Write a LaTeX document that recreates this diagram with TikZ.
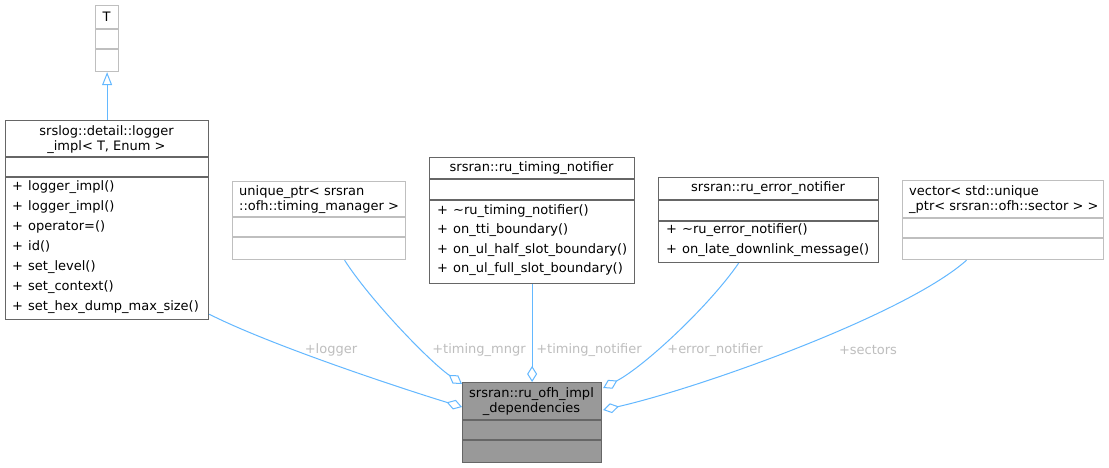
\documentclass[tikz,border=0pt]{standalone}
\usepackage{fontspec}
\setmainfont{DejaVu Sans}
\usetikzlibrary{arrows.meta}
\definecolor{edgeblue}{HTML}{63B8FF}
\definecolor{lightborder}{HTML}{BFBFBF}
\definecolor{darkborder}{HTML}{666666}
\definecolor{mainfill}{HTML}{999999}
\definecolor{labelgray}{HTML}{BEBEBE}
\newcommand\classmembers[5]{%
  \foreach \m [count=\i] in {#5} {
    \node[txt, anchor=base west] (#1-p\i) at (#2, {#3+(\i-1)*#4}) {+};
    \node[txt, anchor=base west] (#1-m\i) at (#2+16, {#3+(\i-1)*#4}) {\m};
  }}
\begin{document}
\begin{tikzpicture}[x=1pt,y=-1pt,
  lightbox/.style={draw=lightborder, line width=1.2pt, fill=white, inner sep=0pt, anchor=north west},
  darkbox/.style={draw=darkborder, line width=1.2pt, fill=white, inner sep=0pt, anchor=north west},
  mainbox/.style={draw=darkborder, line width=1.2pt, fill=mainfill, inner sep=0pt, anchor=north west},
  lightsep/.style={draw=lightborder, line width=1.2pt},
  darksep/.style={draw=darkborder, line width=1.2pt},
  txt/.style={font=\fontsize{13}{15}\selectfont, inner sep=0pt, text=black},
  lbl/.style={font=\fontsize{13}{15}\selectfont, inner sep=0pt, text=labelgray},
  assoc/.style={draw=edgeblue, line width=1pt, -{Diamond[open, length=16pt, width=10pt]}},
  inherit/.style={draw=edgeblue, line width=1pt, -{Triangle[open, length=13pt, width=10pt]}}]
\useasboundingbox[fill=white] (0,0) rectangle (1109,468);

% T
\node[lightbox, minimum width=23pt, minimum height=66pt] (T) at (95,5) {};
\draw[lightsep] (95,29) -- (118,29);
\draw[lightsep] (95,49) -- (118,49);
\node[txt] (T-t) at (106.5,17) {T};

% logger_impl
\node[darkbox, minimum width=203pt, minimum height=199pt] (logger) at (5,120) {};
\draw[darksep] (5,157) -- (208,157);
\draw[darksep] (5,177) -- (208,177);
\node[txt, align=center] (logger-t) at (106.5,139.5) {srslog::detail::logger\\\_impl< T, Enum >};
\classmembers{logger}{12}{190.7}{20}{logger\_impl(), logger\_impl(), operator=(), id(), set\_level(), set\_context(), set\_hex\_dump\_max\_size()}

% unique_ptr timing_manager
\node[lightbox, minimum width=173pt, minimum height=78pt] (uptr) at (232,181) {};
\draw[lightsep] (232,217) -- (405,217);
\draw[lightsep] (232,237) -- (405,237);
\node[txt, align=left, anchor=west] (uptr-t) at (239,199.5) {unique\_ptr< srsran\\::ofh::timing\_manager >};

% ru_timing_notifier
\node[darkbox, minimum width=205pt, minimum height=126pt] (timing) at (429,157) {};
\draw[darksep] (429,179) -- (634,179);
\draw[darksep] (429,200) -- (634,200);
\node[txt] (timing-t) at (531.5,168) {srsran::ru\_timing\_notifier};
\classmembers{timing}{437}{214.5}{19.4}{\textasciitilde ru\_timing\_notifier(), on\_tti\_boundary(), on\_ul\_half\_slot\_boundary(), on\_ul\_full\_slot\_boundary()}

% ru_error_notifier
\node[darkbox, minimum width=220pt, minimum height=85pt] (error) at (658,177) {};
\draw[darksep] (658,200) -- (878,200);
\draw[darksep] (658,221) -- (878,221);
\node[txt] (error-t) at (768,188) {srsran::ru\_error\_notifier};
\classmembers{error}{666}{233.5}{20}{\textasciitilde ru\_error\_notifier(), on\_late\_downlink\_message()}

% vector sectors
\node[lightbox, minimum width=201pt, minimum height=79pt] (vector) at (902,180) {};
\draw[lightsep] (902,218) -- (1103,218);
\draw[lightsep] (902,238) -- (1103,238);
\node[txt, align=left, anchor=west] (vector-t) at (909,199.5) {vector< std::unique\\\_ptr< srsran::ofh::sector > >};

% main
\node[mainbox, minimum width=139pt, minimum height=80pt] (main) at (462,382) {};
\draw[darksep] (462,420) -- (601,420);
\draw[darksep] (462,440) -- (601,440);
\node[txt, align=center] (main-t) at (531.5,402) {srsran::ru\_ofh\_impl\\\_dependencies};

% end points on main box
\coordinate (eLogger) at ([yshift=-25pt]main.north west);
\coordinate (eMngr) at ([yshift=-2pt]main.north west);
\coordinate (eError) at ([xshift=1pt,yshift=-6pt]main.north east);
\coordinate (eSectors) at ([xshift=1pt,yshift=-28pt]main.north east);

% connectors
\draw[inherit] (logger.north) -- (T.south);
\draw[assoc] ([yshift=6pt]logger.south east) .. controls (270,345) and (400,388) .. (eLogger);
\draw[assoc] ([xshift=25.5pt]uptr.south) .. controls (370,300) and (430,362) .. (eMngr);
\draw[assoc] (timing.south) -- (main.north);
\draw[assoc] ([xshift=-30pt]error.south) .. controls (710,305) and (645,366) .. (eError);
\draw[assoc] ([xshift=-36.5pt]vector.south) .. controls (905,315) and (700,388) .. (eSectors);

% labels
\node[lbl] (l-logger) at (331,350) {+logger};
\node[lbl] (l-mngr) at (479,350) {+timing\_mngr};
\node[lbl] (l-tnot) at (589,350) {+timing\_notifier};
\node[lbl] (l-enot) at (715,350) {+error\_notifier};
\node[lbl] (l-sect) at (868,350) {+sectors};
\end{tikzpicture}
\end{document}
